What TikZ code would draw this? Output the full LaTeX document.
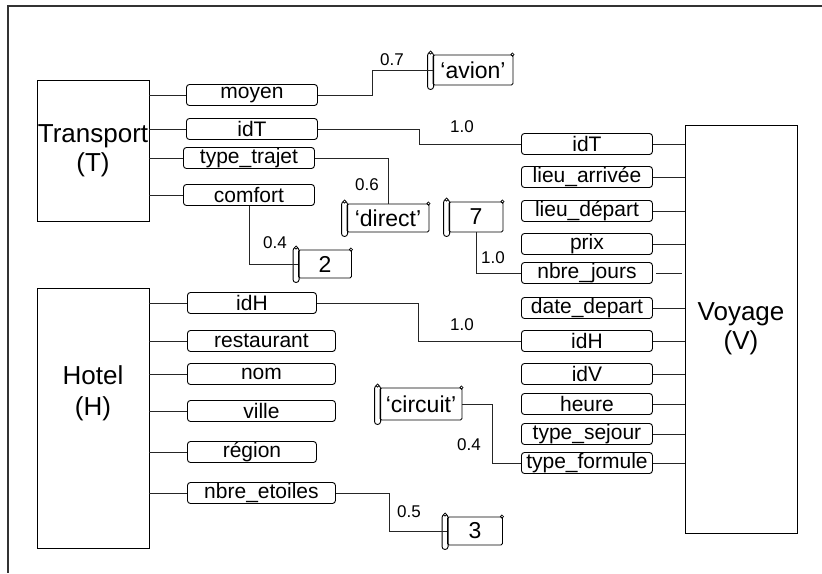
\documentclass[tikz,border=0pt]{standalone}
\usepackage{fontspec}
\setmainfont{Liberation Sans}
\usetikzlibrary{positioning,calc}

\begin{document}
\begin{tikzpicture}[
  x=1pt, y=-1pt,
  line width=0.9pt,
  entite/.style={rectangle, draw, minimum width=112pt, align=center, inner sep=0pt,
                 font=\fontsize{26}{29}\selectfont},
  titre/.style={align=center, inner sep=0pt, font=\fontsize{26}{31}\selectfont},
  attr/.style={rectangle, draw, rounded corners=3pt, minimum width=131pt, minimum height=21pt,
               inner sep=0pt, anchor=west, font=\fontsize{21}{21}\selectfont},
  valeur/.style={rectangle, draw, rounded corners=1.5pt, minimum height=29pt, inner sep=0pt,
                 font=\fontsize{23}{23}\selectfont,
                 append after command={\pgfextra{
                   \draw[fill=white, rounded corners=2.8pt]
                     ([xshift=-5pt, yshift=2pt]\tikzlastnode.north west) rectangle
                     ([xshift=1pt, yshift=-4pt]\tikzlastnode.south west);
                   \draw[fill=white, line width=0.7pt] ([xshift=-2pt, yshift=2pt]\tikzlastnode.north west) circle (1.6pt);
                   \draw[fill=white, line width=0.7pt] ([xshift=-1pt]\tikzlastnode.north east) circle (1.6pt);
                 }}},
  lien/.style={draw=black!85},
  poids/.style={font=\fontsize{17}{17}\selectfont, inner sep=0pt},
]

\def\tx{186}  \def\hx{187}  \def\vx{521}

\useasboundingbox (0,0) rectangle (822,573);
\draw[line width=1.2pt, black!80] (822,6) -- (8,6) -- (8,573);

% entites
\node[entite, minimum height=141pt] (transport) at (93,151) {Transport\\(T)};
\node[entite, minimum height=260pt, label={[titre, yshift=25pt]center:Hotel\\(H)}] (hotel) at (93,418) {};
\node[entite, minimum height=408pt] (voyage) at (741,329) {Voyage\\(V)};

% attributs de Transport
\node[attr] (moyen)      at (\tx,95)    {moyen};
\node[attr] (idT)        at (\tx,129)   {idT};
\node[attr] (typeTrajet) at (\tx-3,158) {type\_trajet};
\node[attr] (comfort)    at (\tx-3,195) {comfort};

% attributs de Hotel
\node[attr, minimum width=129pt] (idH)     at (\hx,303) {idH};
\node[attr, minimum width=148pt] (restau)  at (\hx,341) {restaurant};
\node[attr, minimum width=148pt] (nom)     at (\hx,374) {nom};
\node[attr, minimum width=148pt] (ville)   at (\hx,411) {ville};
\node[attr, minimum width=129pt] (region)  at (\hx,452) {région};
\node[attr, minimum width=148pt] (etoiles) at (\hx,493) {nbre\_etoiles};

% attributs de Voyage
\node[attr] (vIdT)    at (\vx,144) {idT};
\node[attr] (arrivee) at (\vx,177) {lieu\_arrivée};
\node[attr] (depart)  at (\vx,211) {lieu\_départ};
\node[attr] (prix)    at (\vx,244) {prix};
\node[attr] (jours)   at (\vx,273) {nbre\_jours};
\node[attr] (dateDep) at (\vx,308) {date\_depart};
\node[attr] (vIdH)    at (\vx,341) {idH};
\node[attr] (idV)     at (\vx,374) {idV};
\node[attr] (heure)   at (\vx,404) {heure};
\node[attr] (sejour)  at (\vx,434) {type\_sejour};
\node[attr] (formule) at (\vx,463) {type\_formule};

% valeurs
\node[valeur, minimum width=80pt, minimum height=30pt] (avion)   at (473,70)  {`avion'};
\node[valeur, minimum width=82pt, minimum height=28pt] (direct)  at (388,218) {`direct'};
\node[valeur, minimum width=53pt, minimum height=28pt] (deux)    at (325,264) {2};
\node[valeur, minimum width=54pt, minimum height=30pt] (sept)    at (476,217) {7};
\node[valeur, minimum width=82pt, minimum height=32pt] (circuit) at (421,404) {`circuit'};
\node[valeur, minimum width=55pt, minimum height=28pt] (trois)   at (475,531) {3};

% liens entite - attribut
\foreach \a in {moyen,idT,typeTrajet,comfort} { \draw[lien] (transport.east |- \a.west) -- (\a.west); }
\foreach \a in {idH,restau,nom,ville,region,etoiles} { \draw[lien] (hotel.east |- \a.west) -- (\a.west); }
\foreach \a in {vIdT,arrivee,depart,prix,dateDep,vIdH,idV,heure,sejour,formule} { \draw[lien] (\a.east) -- (voyage.west |- \a.east); }
\draw[lien, shorten <=3pt, shorten >=3pt] (jours.east) -- (voyage.west |- jours.east);

% liens avec poids
\draw[lien] (moyen.east) -- ++(55,0) |- (avion.west);
\draw[lien] (idT.east) -- ++(102,0) |- (vIdT.west);
\draw[lien] (typeTrajet.east) -| (direct.north);
\draw[lien] (comfort.south) |- (deux.west);
\draw[lien] (sept.south) |- (jours.west);
\draw[lien] (idH.east) -- ++(102,0) |- (vIdH.west);
\draw[lien] (circuit.east) -- ++(30,0) |- (formule.west);
\draw[lien] (etoiles.east) -- ++(54,0) |- (trois.west);

\node[poids] (p1) at (392,60)  {0.7};
\node[poids] (p2) at (462,127) {1.0};
\node[poids] (p3) at (367,185) {0.6};
\node[poids] (p4) at (275,243) {0.4};
\node[poids] (p5) at (493,258) {1.0};
\node[poids] (p6) at (462,325) {1.0};
\node[poids] (p7) at (469,445) {0.4};
\node[poids] (p8) at (409,512) {0.5};

\end{tikzpicture}
\end{document}
